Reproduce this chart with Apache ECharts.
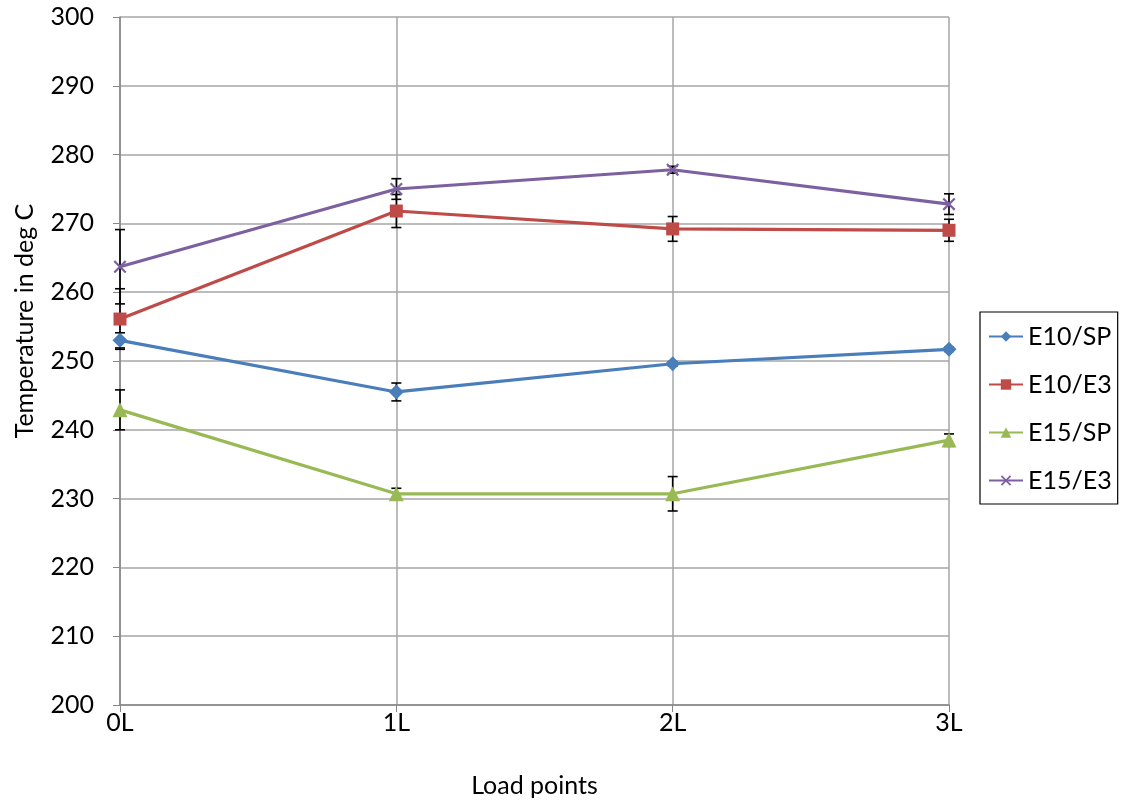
<!DOCTYPE html>
<html>
<head>
<meta charset="utf-8">
<script src="https://cdn.jsdelivr.net/npm/echarts@6/dist/echarts.min.js"></script>
<style>html,body{margin:0;padding:0;background:#fff;}#c{width:1122px;height:803px;}</style>
</head>
<body>
<div id="c"></div>
<script>
var categories = ['0L', '1L', '2L', '3L'];
var seriesNames = ['E10/SP', 'E10/E3', 'E15/SP', 'E15/E3'];
var e10sp = [253.0, 245.5, 249.6, 251.7];
var e10e3 = [256.1, 271.8, 269.2, 269.0];
var e15sp = [242.9, 230.7, 230.7, 238.5];
var e15e3 = [263.7, 275.0, 277.8, 272.8];
// symmetric error amounts (deg C)
var e10spErr = [1.1, 1.3, 0.3, 0.3];
var e10e3Err = [4.4, 2.4, 1.8, 1.6];
var e15spErr = [2.9, 0.8, 2.5, 0.9];
var e15e3Err = [5.4, 1.5, 0.5, 1.5];

var colors = ['#4A7EBB', '#BE4B48', '#98B954', '#7D60A0'];
var values = [e10sp, e10e3, e15sp, e15e3];
var errs = [e10spErr, e10e3Err, e15spErr, e15e3Err];
var symbols = ['diamond', 'rect', 'triangle',
  'path://M0,1.2L1.2,0L10,8.8L8.8,10ZM8.8,0L10,1.2L1.2,10L0,8.8Z'];
var symbolSizes = [15, 13, 15, 13];
var FONT = 'Lato';

var series = [];
values.forEach(function (v, i) {
  var errData = v.map(function (val, j) { return [j, val - errs[i][j], val + errs[i][j]]; });
  series.push({
    type: 'custom',
    name: seriesNames[i] + ' err',
    z: 1,
    silent: true,
    data: errData,
    renderItem: function (params, api) {
      var lo = api.coord([api.value(0), api.value(1)]);
      var hi = api.coord([api.value(0), api.value(2)]);
      var cw = 5;
      var st = { stroke: '#000', lineWidth: 1.6 };
      return {
        type: 'group',
        children: [
          { type: 'line', shape: { x1: lo[0], y1: lo[1], x2: hi[0], y2: hi[1] }, style: st },
          { type: 'line', shape: { x1: lo[0] - cw, y1: lo[1], x2: lo[0] + cw, y2: lo[1] }, style: st },
          { type: 'line', shape: { x1: hi[0] - cw, y1: hi[1], x2: hi[0] + cw, y2: hi[1] }, style: st }
        ]
      };
    }
  });
});
values.forEach(function (v, i) {
  series.push({
    type: 'line',
    name: seriesNames[i],
    data: v,
    z: 3,
    symbol: symbols[i],
    symbolSize: symbolSizes[i],
    showAllSymbol: true,
    lineStyle: { color: colors[i], width: 3.2 },
    itemStyle: { color: colors[i] }
  });
});

var chart = echarts.init(document.getElementById('c'));
chart.setOption({
  animation: false,
  backgroundColor: '#fff',
  grid: { left: 120, right: 173, top: 17, bottom: 98, containLabel: false },
  xAxis: {
    type: 'category',
    data: categories,
    boundaryGap: false,
    name: 'Load points',
    nameLocation: 'middle',
    nameGap: 68,
    nameTextStyle: { fontFamily: FONT, fontSize: 25, color: '#000' },
    axisLine: { lineStyle: { color: '#868686', width: 1.5 } },
    axisTick: { show: true, length: 7, lineStyle: { color: '#868686' } },
    axisLabel: { fontFamily: FONT, fontSize: 25, color: '#000', margin: 5 },
    splitLine: { show: true, lineStyle: { color: '#A6A6A6', width: 1.5 } }
  },
  yAxis: {
    type: 'value',
    min: 200,
    max: 300,
    interval: 10,
    axisLine: { show: true, lineStyle: { color: '#868686', width: 1.5 } },
    axisTick: { show: true, length: 7, lineStyle: { color: '#868686' } },
    axisLabel: { fontFamily: FONT, fontSize: 25, color: '#000', margin: 26 },
    splitLine: { show: true, lineStyle: { color: '#A6A6A6', width: 1.5 } }
  },
  legend: {
    orient: 'vertical',
    left: 980,
    top: 312,
    data: seriesNames,
    itemWidth: 34,
    itemHeight: 13,
    itemGap: 23,
    padding: [12, 6, 11, 8],
    borderColor: '#000',
    borderWidth: 1.2,
    textStyle: { fontFamily: FONT, fontSize: 25, color: '#000', lineHeight: 25 }
  },
  graphic: [{
    type: 'text',
    rotation: Math.PI / 2,
    x: 25,
    y: 321,
    style: { text: 'Temperature in deg C', font: '25px Lato', fill: '#000', textAlign: 'center', textVerticalAlign: 'middle' }
  }],
  series: series
});
</script>
</body>
</html>
